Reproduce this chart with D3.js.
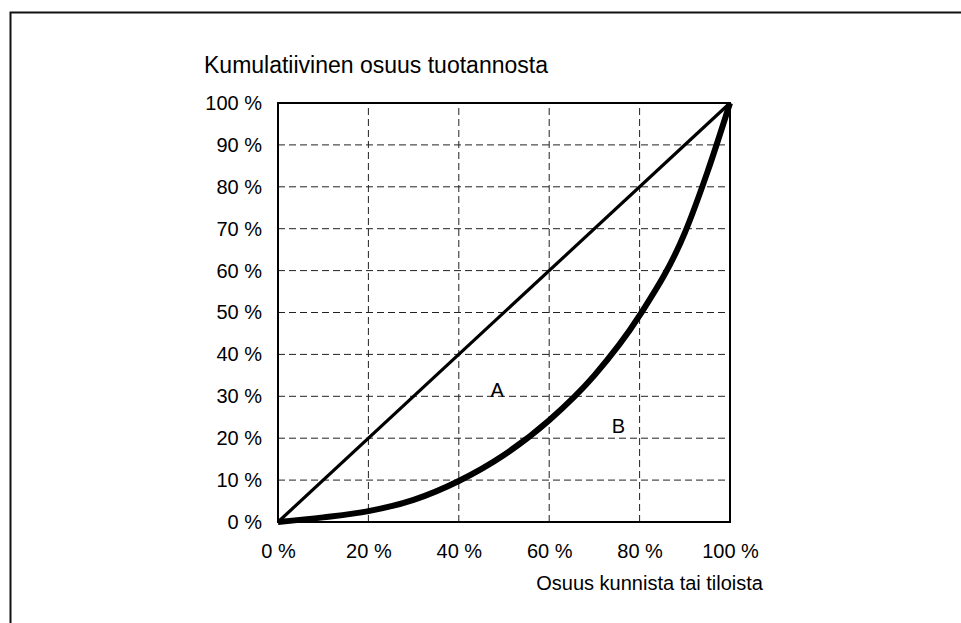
<!DOCTYPE html>
<html>
<head>
<meta charset="utf-8">
<script src="https://cdn.jsdelivr.net/npm/d3@7"></script>
<style>
  html, body { margin: 0; padding: 0; background: #fff; }
  svg { display: block; }
  text { font-family: "Liberation Sans", Arial, sans-serif; fill: #000; }
</style>
</head>
<body>
<svg id="chart" width="961" height="623"></svg>
<script>
// Lorenz curve: cumulative share of municipalities/farms vs cumulative share of production
const shareUnits = [0, 10, 20, 30, 40, 50, 60, 70, 80, 90, 95, 100];
const shareProduction = [0, 1.1, 2.6, 5.3, 9.8, 16, 24.3, 35, 49.3, 69, 83.5, 100];
const equalityLine = [0, 100];
const xTicks = [0, 20, 40, 60, 80, 100];
const yTicks = [0, 10, 20, 30, 40, 50, 60, 70, 80, 90, 100];
const yTitle = "Kumulatiivinen osuus tuotannosta";
const xTitle = "Osuus kunnista tai tiloista";
const areaLabels = [
  { name: "A", x: 48.5, y: 31.5 },
  { name: "B", x: 75.3, y: 22.9 }
];

const svg = d3.select("#chart");
const fontSize = 20;
const titleSize = 23;
const fontFamily = '"Liberation Sans", Arial, sans-serif';

// outer frame (continues beyond the visible window)
svg.append("rect")
  .attr("x", 10.5).attr("y", 12.5)
  .attr("width", 1000).attr("height", 700)
  .attr("fill", "none").attr("stroke", "#111").attr("stroke-width", 2);

const x = d3.scaleLinear().domain([0, 100]).range([278, 730]);
const y = d3.scaleLinear().domain([0, 100]).range([522, 103]);

const fmt = d => d + " %";

// dashed grid
const grid = svg.append("g");
grid.selectAll("line.h").data(yTicks.filter(d => d > 0 && d < 100)).join("line")
  .attr("x1", x(0)).attr("x2", x(100))
  .attr("y1", d => y(d)).attr("y2", d => y(d))
  .attr("stroke", "#222").attr("stroke-width", 1).attr("stroke-dasharray", "7,4");
grid.selectAll("line.v").data(xTicks.filter(d => d > 0 && d < 100)).join("line")
  .attr("y1", y(0)).attr("y2", y(100))
  .attr("x1", d => x(d)).attr("x2", d => x(d))
  .attr("stroke", "#222").attr("stroke-width", 1).attr("stroke-dasharray", "7,4");

// axes (labels only, plot frame drawn separately)
const yAxis = d3.axisLeft(y).tickValues(yTicks).tickFormat(fmt).tickSize(0).tickPadding(16);
const gy = svg.append("g").attr("transform", `translate(${x(0)},0)`).call(yAxis);
gy.select(".domain").remove();
gy.selectAll("text").style("font-size", fontSize + "px")
  .style("font-family", fontFamily).attr("fill", "#000");

const xAxis = d3.axisBottom(x).tickValues(xTicks).tickFormat(fmt).tickSize(0).tickPadding(22);
const gx = svg.append("g").attr("transform", `translate(0,${y(0)})`).call(xAxis);
gx.select(".domain").remove();
gx.selectAll("text").style("font-size", fontSize + "px")
  .style("font-family", fontFamily).attr("fill", "#000");

// plot frame
svg.append("rect")
  .attr("x", x(0)).attr("y", y(100))
  .attr("width", x(100) - x(0)).attr("height", y(0) - y(100))
  .attr("fill", "none").attr("stroke", "#000").attr("stroke-width", 2);

// line of equality
svg.append("path")
  .datum(equalityLine)
  .attr("d", d3.line().x(d => x(d)).y(d => y(d)))
  .attr("fill", "none").attr("stroke", "#000").attr("stroke-width", 3.2);

// Lorenz curve
const curveData = shareUnits.map((u, i) => [u, shareProduction[i]]);
svg.append("path")
  .datum(curveData)
  .attr("d", d3.line().x(d => x(d[0])).y(d => y(d[1])).curve(d3.curveMonotoneX))
  .attr("fill", "none").attr("stroke", "#000").attr("stroke-width", 6)
  .attr("stroke-linejoin", "round");

// area labels
svg.selectAll("text.area").data(areaLabels).join("text")
  .attr("class", "area")
  .attr("x", d => x(d.x)).attr("y", d => y(d.y))
  .attr("text-anchor", "middle").attr("dy", "0.36em")
  .style("font-size", fontSize + "px")
  .text(d => d.name);

// axis titles
svg.append("text").attr("x", 204).attr("y", 73)
  .style("font-size", titleSize + "px").text(yTitle);
svg.append("text").attr("x", 763).attr("y", 590).attr("text-anchor", "end")
  .style("font-size", fontSize + "px").text(xTitle);
</script>
</body>
</html>
